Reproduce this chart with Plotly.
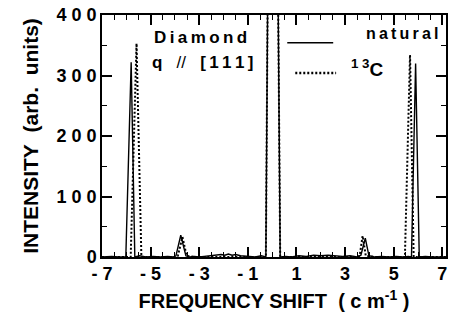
import plotly.graph_objects as go

# ---- data ----
nat_x = [-7.0, -6.6, -6.3, -6.02, -5.80, -5.65, -5.45, -5.2, -4.9, -4.6, -4.3, -4.05, -3.96, -3.76, -3.55,
         -3.4, -3.2, -3.0, -2.8, -2.5, -2.3, -2.1, -1.95, -1.8, -1.65, -1.5, -1.3, -1.0, -0.7, -0.45, -0.26,
         0.015, 0.33, 0.55, 0.8, 1.1, 1.4, 1.7, 2.0, 2.3, 2.6, 2.9, 3.2, 3.5, 3.65, 3.83, 3.98, 4.2, 4.5,
         4.8, 5.1, 5.4, 5.6, 5.73, 5.90, 6.05, 6.3, 6.6, 7.15]
nat_y = [0, 1, 0, 0, 322, 0, 2, 0, 1, 0, 1, 0, 2, 36, 2,
         0, 1, 0, 1, 2, 3, 4, 3, 5, 3, 4, 2, 1, 0, 2, 0,
         1570, 0, 1, 0, 2, 1, 3, 2, 3, 2, 1, 2, 0, 3, 31, 2, 0, 1,
         0, 1, 0, 1, 0, 320, 0, 1, 0, 0]

c13_x = [-7.0, -6.5, -6.0, -5.82, -5.58, -5.38, -5.0, -4.5, -4.0, -3.88, -3.69, -3.52, -3.2, -2.5, -1.5,
         -0.8, -0.26, 0.015, 0.33, 1.0, 2.0, 3.0, 3.5, 3.6, 3.72, 3.85, 4.2, 5.0, 5.46, 5.67, 5.82, 6.2, 7.15]
c13_y = [0, 0, 0, 0, 353, 0, 0, 0, 0, 2, 33, 2, 0, 0, 0,
         0, 0, 1570, 0, 0, 0, 0, 0, 2, 35, 2, 0, 0, 0, 334, 0, 0, 0]

x_tickvals = [-7, -5, -3, -1, 1, 3, 5, 7]
x_ticktext = ["- 7", "- 5", "- 3", "- 1", "1", "3", "5", "7"]
y_tickvals = [0, 100, 200, 300, 400]
y_ticktext = ["0", "1 0 0", "2 0 0", "3 0 0", "4 0 0"]

FONT = "Liberation Sans, Arial, sans-serif"
TS = "\u2009"  # thin space for letter spacing
NB = "\u00a0"


def spaced(s):
    return TS.join(s)


fig = go.Figure()
fig.add_trace(go.Scatter(x=nat_x, y=nat_y, mode="lines", name="natural",
                         line=dict(color="black", width=1.4)))
fig.add_trace(go.Scatter(x=c13_x, y=c13_y, mode="lines", name="13C",
                         line=dict(color="black", width=2, dash="2px,2px")))

axis_common = dict(showline=True, linecolor="black", linewidth=1.5, mirror="allticks",
                   ticks="inside", tickcolor="black", tickwidth=2, ticklen=10, showgrid=False, zeroline=False,
                   tickfont=dict(family=FONT, size=18, color="black", weight="bold"))

fig.update_xaxes(range=[-7, 7.15], tickmode="array", tickvals=x_tickvals, ticktext=x_ticktext,
                 minor=dict(ticks="inside", ticklen=5, tick0=0, dtick=0.5, tickcolor="black",
                            tickwidth=1.2, showgrid=False),
                 title=dict(text="<b>FREQUENCY SHIFT" + NB + NB + "(" + NB + "c" + NB + "m<sup>-1</sup>" + NB + ")</b>",
                            font=dict(family=FONT, size=20, color="black"), standoff=11),
                 **axis_common)
fig.update_yaxes(range=[0, 400], tickmode="array", tickvals=y_tickvals, ticktext=y_ticktext,
                 minor=dict(ticks="inside", ticklen=5, tick0=0, dtick=50, tickcolor="black",
                            tickwidth=1.2, showgrid=False),
                 title=dict(text="<b>INTENSITY" + NB + NB + "(arb." + NB + NB + "units)</b>",
                            font=dict(family=FONT, size=21, color="black"), standoff=12),
                 **axis_common)

ann_font = dict(family=FONT, size=17, color="black", weight="bold")
fig.add_annotation(x=-4.94, y=362, xref="x", yref="y", text=spaced("Diamond"), showarrow=False,
                   xanchor="left", yanchor="middle", font=ann_font)
fig.add_annotation(x=-5.02, y=321, xref="x", yref="y",
                   text="q" + NB * 3 + "<span style='font-weight:normal'>//</span>" + NB * 3 + spaced("[111]"),
                   showarrow=False, xanchor="left", yanchor="middle", font=ann_font)
fig.add_annotation(x=6.93, y=369, xref="x", yref="y", text=spaced("natural"), showarrow=False,
                   xanchor="right", yanchor="middle", font=dict(family=FONT, size=16, color="black", weight="bold"))
fig.add_annotation(x=3.17, y=312, xref="x", yref="y", text="<sup>1 3</sup>C", showarrow=False,
                   xanchor="left", yanchor="middle", font=dict(family=FONT, size=19, color="black", weight="bold"))

# legend sample lines
fig.add_shape(type="line", xref="x", yref="y", x0=0.62, x1=2.51, y0=354, y1=354,
              line=dict(color="black", width=1.5))
fig.add_shape(type="line", xref="x", yref="y", x0=0.95, x1=2.63, y0=304, y1=304,
              line=dict(color="black", width=2.5, dash="2px,2px"))

fig.update_layout(width=450, height=320, margin=dict(l=102, r=4, t=15, b=63, autoexpand=False),
                  plot_bgcolor="white", paper_bgcolor="white", showlegend=False)

fig.write_html("out.html", config={"displayModeBar": False},
               post_script="document.body.style.margin='0';document.body.style.overflow='hidden';")
